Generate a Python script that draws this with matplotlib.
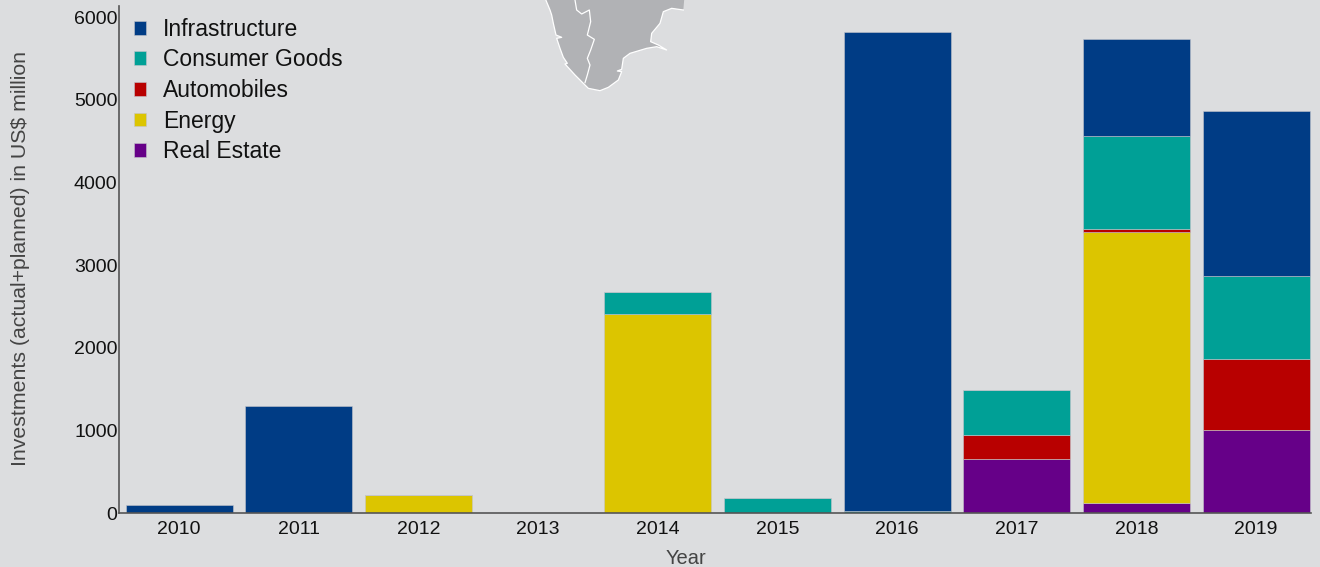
import numpy as np
import matplotlib
matplotlib.use("Agg")
import matplotlib.pyplot as plt
from matplotlib.patches import Patch, Polygon

plt.rcParams["font.family"] = ["Liberation Sans", "DejaVu Sans"]

# Data
years = ["2010", "2011", "2012", "2013", "2014", "2015", "2016", "2017", "2018", "2019"]
real_estate = [0, 0, 0, 0, 0, 0, 0, 655, 120, 1005]
energy = [0, 0, 215, 0, 2410, 0, 0, 0, 3280, 0]
automobiles = [0, 0, 0, 0, 0, 0, 0, 290, 35, 860]
consumer_goods = [0, 0, 0, 0, 260, 185, 25, 550, 1130, 1005]
infrastructure = [100, 1295, 0, 0, 0, 0, 5800, 0, 1175, 1995]

# bottom to top in the stack
series = [
    ("Real Estate", real_estate, "#660088"),
    ("Energy", energy, "#DCC500"),
    ("Automobiles", automobiles, "#B80000"),
    ("Consumer Goods", consumer_goods, "#00A096"),
    ("Infrastructure", infrastructure, "#003C85"),
]

bg = "#DCDDDF"
W, H = 1320, 567

# map coast, in picture pixels (zoomed crop coordinates / 3 + crop origin)
coast = np.array([(135, -6), (150, 30), (155, 45), (160, 70), (168, 105), (185, 112), (170, 115),
                  (180, 145), (190, 172), (202, 190), (195, 192), (225, 225), (250, 250),
                  (265, 265), (300, 272), (325, 262), (355, 240), (365, 215), (352, 213),
                  (365, 208), (370, 175), (390, 160), (440, 145), (470, 140), (500, 150),
                  (475, 135), (452, 125), (455, 100), (480, 70), (490, 35), (515, 25),
                  (550, 30)]) / 3 + [500, 0]
map_corner = np.array([(553, -6)]) / 3 + [500, 0]
map_border = np.array([(225, 0), (230, 30), (245, 42), (268, 30), (272, 65), (262, 105),
                       (283, 118), (272, 150), (262, 175), (270, 195), (262, 225),
                       (255, 248)]) / 3 + [500, 0]

fig = plt.figure(figsize=(W / 100, H / 100), dpi=100, facecolor=bg)

# background map
ax_map = fig.add_axes([0, 0, 1, 1], zorder=0)
ax_map.set_xlim(0, W)
ax_map.set_ylim(H, 0)
ax_map.axis("off")
ax_map.add_patch(Polygon(np.vstack([coast, map_corner]), closed=True, fc="#B1B2B5", ec="none"))
ax_map.plot(coast[:, 0], coast[:, 1], color="white", lw=0.9)
ax_map.plot(map_border[:, 0], map_border[:, 1], color="white", lw=0.9)

# chart
left, right, top, bottom = 119, 1311, 6, 513
px_per_unit = 0.0826
ax = fig.add_axes([left / W, 1 - bottom / H, (right - left) / W, (bottom - top) / H], zorder=1)
ax.patch.set_alpha(0)

x = np.arange(len(years))
base = np.zeros(len(years))
for name, vals, col in series:
    ax.bar(x, vals, bottom=base, width=0.895, color=col, edgecolor="#C4C5CB", linewidth=0.4)
    base = base + np.array(vals)

ax.set_xlim(-0.502, 9.458)
ax.set_ylim(0, (bottom - top) / px_per_unit)
ax.set_xticks(x)
ax.set_xticklabels(years)
ax.set_yticks([0, 1000, 2000, 3000, 4000, 5000, 6000])
ax.tick_params(length=0, labelsize=14, labelcolor="#111111")
ax.tick_params(axis="x", pad=6)
ax.tick_params(axis="y", pad=1)

ax.spines["top"].set_visible(False)
ax.spines["right"].set_visible(False)
ax.spines["left"].set_color("#555555")
ax.spines["bottom"].set_color("#555555")
ax.spines["left"].set_linewidth(1.2)
ax.spines["bottom"].set_linewidth(1.2)

fig.text(21 / W, 1 - 258 / H, "Investments (actual+planned) in US$ million", rotation=90,
         ha="center", va="center", fontsize=15.3, color="#444444")
fig.text(686 / W, 1 - 558 / H, "Year", ha="center", va="center", fontsize=14.5, color="#444444")

handles = [Patch(fc=col, ec="#C4C5CB", lw=0.4) for name, vals, col in series[::-1]]
labels = [name for name, vals, col in series[::-1]]
ax.legend(handles, labels, loc="upper left", bbox_to_anchor=(127 / W, 1 - 11 / H),
          bbox_transform=fig.transFigure, frameon=False, fontsize=16.5, handlelength=0.55,
          handleheight=0.55, handletextpad=0.72, labelspacing=0.33, labelcolor="#111111",
          borderpad=0.3, borderaxespad=0)

fig.savefig("out.png", dpi=100, facecolor=bg)
